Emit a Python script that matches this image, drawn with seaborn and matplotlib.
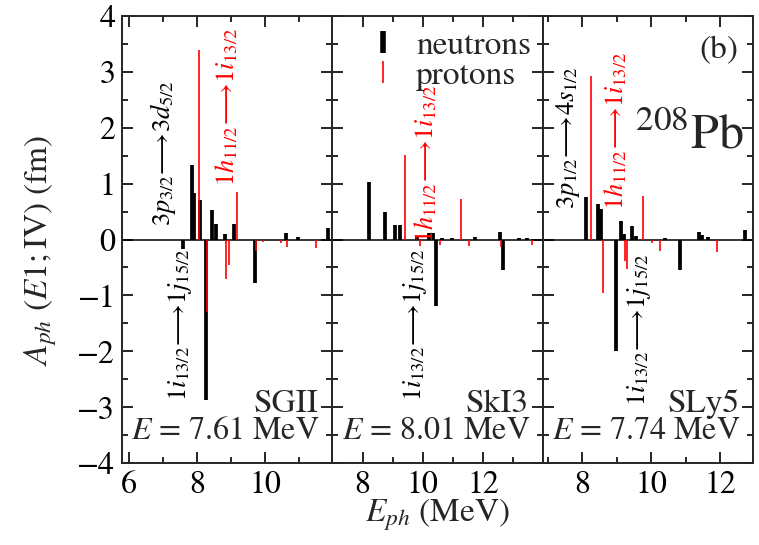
import numpy as np
import seaborn as sns
import matplotlib
matplotlib.use("Agg")
import matplotlib.pyplot as plt
from matplotlib.lines import Line2D
from matplotlib.ticker import MultipleLocator

# ---------------- data ----------------
panel_names = ["SGII", "SkI3", "SLy5"]
panel_energies = ["7.61", "8.01", "7.74"]
panel_xlims = [(5.8, 11.98), (7.0, 13.97), (6.85, 12.95)]

sgii_n_E = [7.58, 7.84, 7.92, 8.10, 8.25, 8.44, 8.56, 8.83, 9.10, 9.69, 10.62, 10.98, 11.84]
sgii_n_A = [-0.17, 1.33, 0.83, 0.70, -2.87, 0.52, 0.27, 0.09, 0.27, -0.78, 0.11, 0.05, 0.21]
sgii_p_E = [8.06, 8.30, 8.85, 8.93, 9.18, 9.74, 9.94, 10.47, 10.65, 11.50]
sgii_p_A = [3.38, -1.29, -0.70, -0.45, 0.85, -0.21, -0.04, -0.07, -0.13, -0.16]

ski3_n_E = [8.21, 8.73, 9.08, 9.24, 9.81, 10.20, 10.32, 10.42, 10.62, 10.96, 11.73, 12.55, 12.65, 13.18, 13.46]
ski3_n_A = [1.03, 0.49, 0.26, 0.26, 0.05, 0.11, 0.11, -1.19, 0.03, 0.03, 0.04, 0.13, -0.55, 0.02, 0.02]
ski3_p_E = [9.40, 9.90, 10.57, 11.27, 11.54, 12.58, 13.62]
ski3_p_A = [1.52, -0.11, -0.09, 0.73, -0.12, -0.13, -0.10]

sly5_n_E = [8.10, 8.45, 8.55, 8.99, 9.13, 9.20, 9.45, 9.55, 10.41, 10.83, 11.39, 11.48, 11.65, 12.72]
sly5_n_A = [0.76, 0.63, 0.55, -2.00, 0.33, 0.10, 0.25, 0.06, 0.03, -0.54, 0.14, 0.08, 0.05, 0.17]
sly5_p_E = [8.26, 8.61, 9.24, 9.30, 9.77, 10.03, 10.25, 11.92]
sly5_p_A = [2.93, -0.95, -0.39, -0.52, 0.77, -0.06, -0.21, -0.22]

neutron_E = [sgii_n_E, ski3_n_E, sly5_n_E]
neutron_A = [sgii_n_A, ski3_n_A, sly5_n_A]
proton_E = [sgii_p_E, ski3_p_E, sly5_p_E]
proton_A = [sgii_p_A, ski3_p_A, sly5_p_A]

# transition annotations: (panel, E, A, text, color)
annotations = [
    (0, 7.00, 1.54, r"$3p_{3/2}\!\longrightarrow\! 3d_{5/2}$", "black"),
    (0, 8.88, 2.37, r"$1h_{11/2}\!\longrightarrow\! 1i_{13/2}$", "red"),
    (0, 7.50, -1.53, r"$1i_{13/2}\!\longrightarrow\! 1j_{15/2}$", "black"),
    (1, 10.10, 1.36, r"$1h_{11/2}\!\longrightarrow\! 1i_{13/2}$", "red"),
    (1, 9.73, -1.53, r"$1i_{13/2}\!\longrightarrow\! 1j_{15/2}$", "black"),
    (2, 7.59, 1.82, r"$3p_{1/2}\!\longrightarrow\! 4s_{1/2}$", "black"),
    (2, 8.99, 1.95, r"$1h_{11/2}\!\longrightarrow\! 1i_{13/2}$", "red"),
    (2, 9.65, -1.62, r"$1i_{13/2}\!\longrightarrow\! 1j_{15/2}$", "black"),
]

# ---------------- style ----------------
sns.set_theme(style="ticks")
plt.rcParams['font.family'] = ['STIXGeneral', 'DejaVu Serif']
plt.rcParams['mathtext.fontset'] = 'stix'
plt.rcParams['axes.linewidth'] = 1.4

fig = plt.figure(figsize=(7.59, 5.45), dpi=100)
gs = fig.add_gridspec(1, 3, left=0.161, right=0.992, top=0.971, bottom=0.150, wspace=0)
axes = [fig.add_subplot(gs[0, i]) for i in range(3)]

for i, ax in enumerate(axes):
    ax.axhline(0, color="black", lw=1.1, zorder=1)
    ax.vlines(neutron_E[i], 0, neutron_A[i], colors="black", lw=2.7, zorder=2)
    ax.vlines(proton_E[i], 0, proton_A[i], colors="red", lw=1.2, zorder=3)
    ax.set_xlim(*panel_xlims[i])
    ax.set_ylim(-4, 4)
    ax.xaxis.set_major_locator(MultipleLocator(2))
    ax.xaxis.set_minor_locator(MultipleLocator(1))
    ax.yaxis.set_major_locator(MultipleLocator(1))
    ax.yaxis.set_minor_locator(MultipleLocator(0.5))
    ax.tick_params(which="both", direction="in", top=True, right=True,
                   labelsize=23, width=1.2, colors="black")
    ax.tick_params(which="major", length=8, pad=5)
    ax.tick_params(which="minor", length=4.5)
    if i > 0:
        ax.tick_params(labelleft=False)
    ax.text(0.935, 0.132, panel_names[i], transform=ax.transAxes, ha="right",
            va="center", fontsize=24)
    ax.text(0.94, 0.071, r"$E$ = " + panel_energies[i] + " MeV", transform=ax.transAxes,
            ha="right", va="center", fontsize=23)

for (p, e, a, txt, col) in annotations:
    axes[p].text(e, a, txt, color=col, rotation=90, ha="center", va="center", fontsize=19)

# legend in middle panel
handles = [Line2D([], [], color="black", marker="|", markersize=16, mew=4.0, ls="none"),
           Line2D([], [], color="red", marker="|", markersize=16, mew=1.2, ls="none")]
axes[1].legend(handles, ["neutrons", "protons"], loc="upper left",
               bbox_to_anchor=(0.065, 1.02), frameon=False, fontsize=24,
               handlelength=0.8, handletextpad=0.6, labelspacing=0.0,
               borderpad=0.2)

axes[2].text(0.93, 0.922, "(b)", transform=axes[2].transAxes, ha="right", va="center", fontsize=24)
axes[2].text(0.955, 0.73, r"$^{208}\mathrm{Pb}$", transform=axes[2].transAxes, ha="right",
             va="center", fontsize=36)

fig.text(0.053, 0.54, r"$A_{ph}\ (E1;\mathrm{IV})\ (\mathrm{fm})$", rotation=90,
         ha="center", va="center", fontsize=24)
fig.text(0.576, 0.055, r"$E_{ph}$ (MeV)", ha="center", va="center", fontsize=24)

fig.savefig("out.png", dpi=100)
